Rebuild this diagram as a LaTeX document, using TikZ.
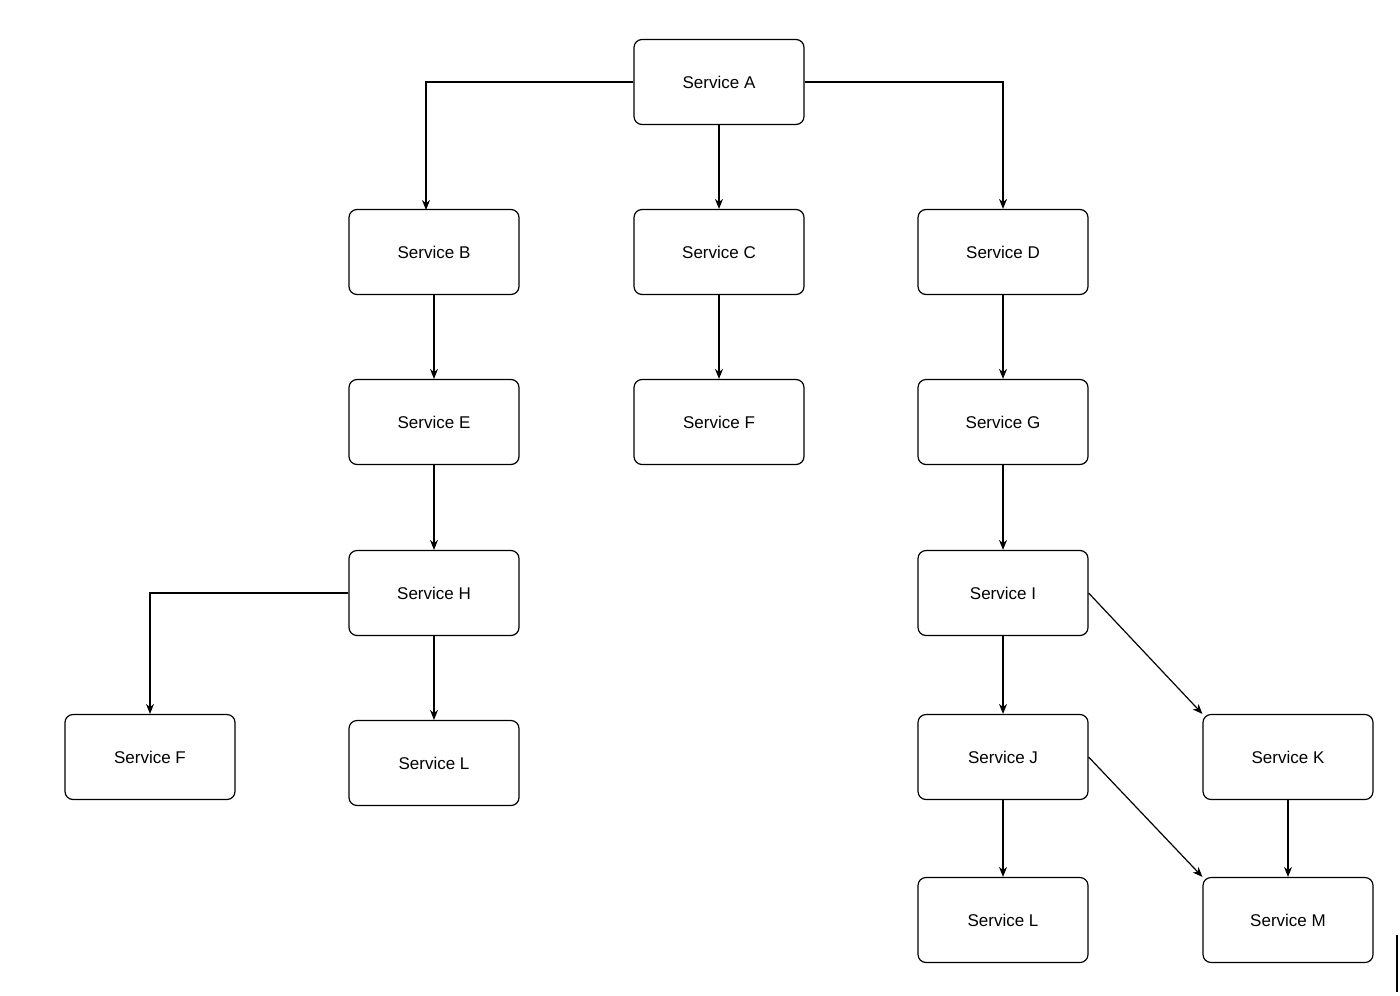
\documentclass[tikz,border=0pt]{standalone}
\usepackage{fontspec}
\setmainfont{Liberation Sans}
\usetikzlibrary{arrows.meta}
\begin{document}
\begin{tikzpicture}[x=0.5pt,y=-0.5pt,
  svc/.style={draw,rounded corners=4pt,minimum width=85pt,minimum height=42.5pt,font=\fontsize{8.5}{10}\selectfont,line width=0.6pt},
  arr/.style={-{Stealth[length=5pt,width=4pt]},line width=0.6pt}]
\useasboundingbox (0,0) rectangle (1400,995);
\node[svc] (A) at (719,82) {Service A};
\node[svc] (B) at (434,252) {Service B};
\node[svc] (C) at (719,252) {Service C};
\node[svc] (D) at (1003,252) {Service D};
\node[svc] (E) at (434,422) {Service E};
\node[svc] (F1) at (719,422) {Service F};
\node[svc] (G) at (1003,422) {Service G};
\node[svc] (H) at (434,593) {Service H};
\node[svc] (I) at (1003,593) {Service I};
\node[svc] (F2) at (150,757) {Service F};
\node[svc] (L1) at (434,763) {Service L};
\node[svc] (J) at (1003,757) {Service J};
\node[svc] (K) at (1288,757) {Service K};
\node[svc] (L2) at (1003,920) {Service L};
\node[svc] (M) at (1288,920) {Service M};
\coordinate (bt) at (426,210);
\draw[arr] (A.west) -| (bt);
\draw[arr] (A.east) -| (D.north);
\draw[arr] (A) -- (C);
\draw[arr] (B) -- (E);
\draw[arr] (E) -- (H);
\draw[arr] (H.west) -| (F2.north);
\draw[arr] (H) -- (L1);
\draw[arr] (C) -- (F1);
\draw[arr] (D) -- (G);
\draw[arr] (G) -- (I);
\draw[arr] (I) -- (J);
\draw[arr] (I.east) -- (K.north west);
\draw[arr] (J) -- (L2);
\draw[arr] (J.east) -- (M.north west);
\draw[arr] (K) -- (M);
\coordinate (c1) at (1397,935); \coordinate (c2) at (1397,992);
\draw[line width=1pt] (c1) -- (c2);
\end{tikzpicture}
\end{document}
